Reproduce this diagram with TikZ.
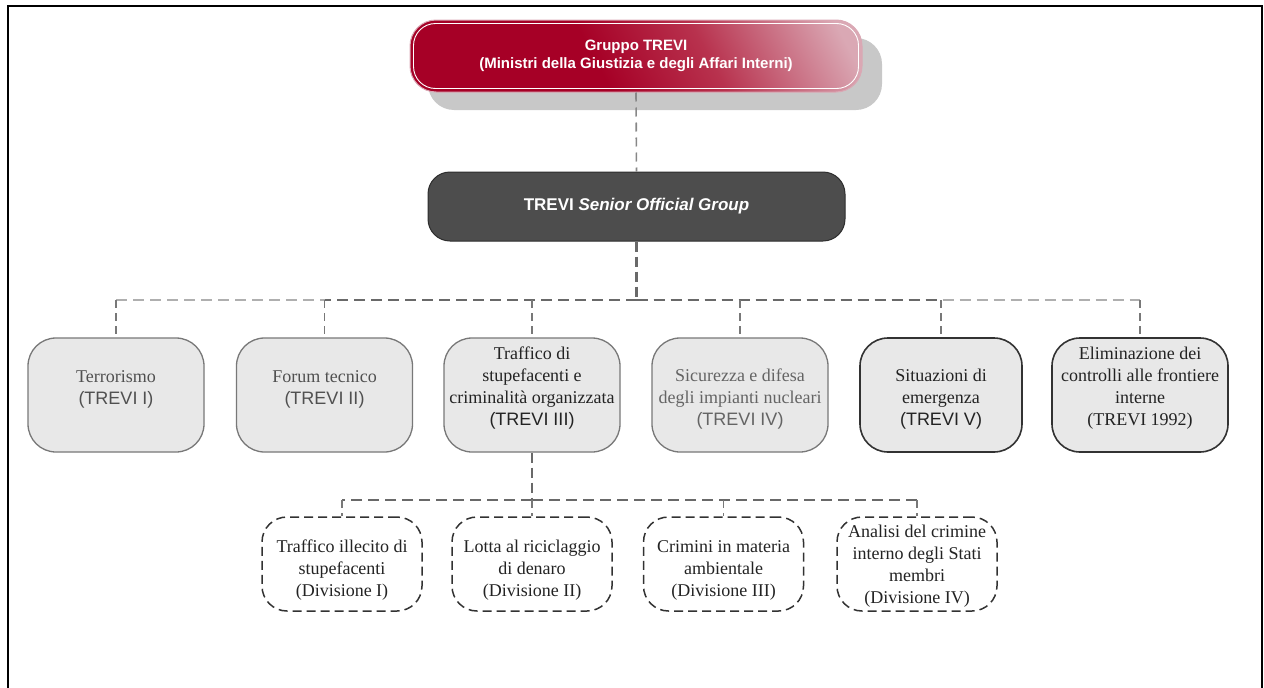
\documentclass[tikz,border=0pt]{standalone}
\usepackage{fontspec}
\setmainfont{Liberation Serif}
\newfontfamily\arial{Liberation Sans}
\usetikzlibrary{calc}
\definecolor{tr1}{RGB}{166,0,38}
\definecolor{tr2}{RGB}{184,50,78}
\definecolor{tr3}{RGB}{218,168,180}
\definecolor{shadowgray}{RGB}{200,200,200}
\definecolor{sogfill}{RGB}{77,77,77}
\definecolor{sogdraw}{RGB}{45,45,45}
\definecolor{boxfill}{RGB}{232,232,232}
\definecolor{boxdraw}{RGB}{120,120,120}
\definecolor{boxdark}{RGB}{50,50,50}
\definecolor{linelight}{RGB}{175,175,175}
\definecolor{linedark}{RGB}{105,105,105}
\definecolor{txtmid}{RGB}{80,80,80}
\definecolor{txtlight}{RGB}{100,100,100}
\definecolor{txtdark}{RGB}{35,35,35}
\pgfdeclarehorizontalshading{trevishade}{100bp}{color(0bp)=(tr1); color(44bp)=(tr1); color(60bp)=(tr2); color(80bp)=(tr3); color(100bp)=(tr3)}
\begin{document}
\begin{tikzpicture}[x=1pt,y=-1pt,
  topbox/.style={shading=trevishade, shading angle=28, draw=tr3, line width=1pt,
    rounded corners=26pt, minimum width=452pt, minimum height=72pt, inner sep=0pt,
    text=white, align=center, font=\arial\bfseries\fontsize{15}{18}\selectfont},
  sogbox/.style={fill=sogfill, draw=sogdraw, line width=1pt, rounded corners=22pt,
    minimum width=417pt, minimum height=69pt, inner sep=0pt, text=white,
    font=\arial\bfseries\fontsize{17}{20}\selectfont},
  childbox/.style={fill=boxfill, draw=boxdraw, line width=1.3pt, rounded corners=28pt,
    minimum width=176pt, minimum height=114pt, inner sep=0pt},
  childdark/.style={childbox, draw=boxdark, line width=1.6pt},
  divbox/.style={fill=white, draw=boxdark, line width=1.5pt, dash pattern=on 9pt off 5pt,
    rounded corners=25pt, minimum width=160pt, minimum height=94pt, inner sep=0pt},
  ctext/.style={align=center, inner sep=0pt, font=\fontsize{18}{22}\selectfont},
  topconn/.style={draw=linedark!80, line width=1.6pt, dash pattern=on 9pt off 6pt},
  vmain/.style={draw=linedark, line width=2.6pt, dash pattern=on 10pt off 5pt},
  hlight/.style={draw=linelight, line width=2.4pt, dash pattern=on 11pt off 6pt},
  hdark/.style={draw=linedark, line width=2.6pt, dash pattern=on 11pt off 6pt},
  vdrop/.style={draw=linedark!90, line width=1.4pt, dash pattern=on 8pt off 5pt}]
\useasboundingbox (0,0) rectangle (1264,688);
\draw[line width=2.5pt, black] (8,688) -- (8,6) -- (1262,6) -- (1262,688);

% top box
\fill[shadowgray, rounded corners=26pt] (428,38) rectangle (882,110);
\node[topbox] (top) at (636,56) {Gruppo TREVI\\(Ministri della Giustizia e degli Affari Interni)};
\draw[white, line width=0.9pt, rounded corners=22pt] ($(top.south west)+(4,-4)$) rectangle ($(top.north east)+(-4,4)$);

% senior official group
\node[sogbox] (sog) at (636.5,206.5) {TREVI \itshape Senior Official Group};
\draw[topconn] (top.south) -- (sog.north);

% children
\node[childbox] (b1) at (116,395) {};
\node[childbox] (b2) at (324.5,395) {};
\node[childbox] (b3) at (532,395) {};
\node[childbox] (b4) at (740,395) {};
\node[childdark, minimum width=162pt] (b5) at (941,395) {};
\node[childdark] (b6) at (1140,395) {};

\node[ctext, text=txtmid] (t1) at (116,389) {Terrorismo\\{\arial(TREVI I)}};
\node[ctext, text=txtmid] (t2) at (324.5,389) {Forum tecnico\\{\arial(TREVI II)}};
\node[ctext, text=txtdark] (t3) at (532,388) {Traffico di\\stupefacenti e\\criminalità organizzata\\{\arial(TREVI III)}};
\node[ctext, text=txtlight] (t4) at (740,399) {Sicurezza e difesa\\degli impianti nucleari\\{\arial(TREVI IV)}};
\node[ctext, text=txtdark] (t5) at (941,399) {Situazioni di\\emergenza\\{\arial(TREVI V)}};
\node[ctext, text=txtdark] (t6) at (1140,388) {Eliminazione dei\\controlli alle frontiere\\interne\\(TREVI 1992)};

\coordinate (bus1) at (636.5,300);
\draw[vmain] (sog.south) -- (bus1);
\draw[hlight] (bus1) -- (bus1 -| b1.north);
\draw[hlight] (bus1) -- (bus1 -| b6.north);
\draw[hdark] (bus1) -- (bus1 -| b2.north);
\draw[hdark] (bus1) -- (bus1 -| b5.north);
\foreach \b in {b1,b2,b3,b4,b5,b6}{
  \draw[vdrop] (bus1 -| \b.north) -- (\b.north);
}

% divisions
\node[divbox] (d1) at (342,564) {};
\node[divbox] (d2) at (532,564) {};
\node[divbox] (d3) at (723.5,564) {};
\node[divbox] (d4) at (917,564) {};

\node[ctext, text=txtdark] (u1) at (342,570) {Traffico illecito di\\stupefacenti\\(Divisione I)};
\node[ctext, text=txtdark] (u2) at (532,570) {Lotta al riciclaggio\\di denaro\\(Divisione II)};
\node[ctext, text=txtdark] (u3) at (723.5,570) {Crimini in materia\\ambientale\\(Divisione III)};
\node[ctext, text=txtdark] (u4) at (917,566) {Analisi del crimine\\interno degli Stati\\membri\\(Divisione IV)};

\coordinate (bus2) at (532,500);
\draw[vmain] (b3.south) -- (bus2);
\draw[hdark, line width=1.8pt] (bus2) -- (bus2 -| d1.north);
\draw[hdark, line width=1.8pt] (bus2) -- (bus2 -| d4.north);
\foreach \d in {d1,d2,d3,d4}{
  \draw[vdrop] (bus2 -| \d.north) -- (\d.north);
}
\end{tikzpicture}
\end{document}
